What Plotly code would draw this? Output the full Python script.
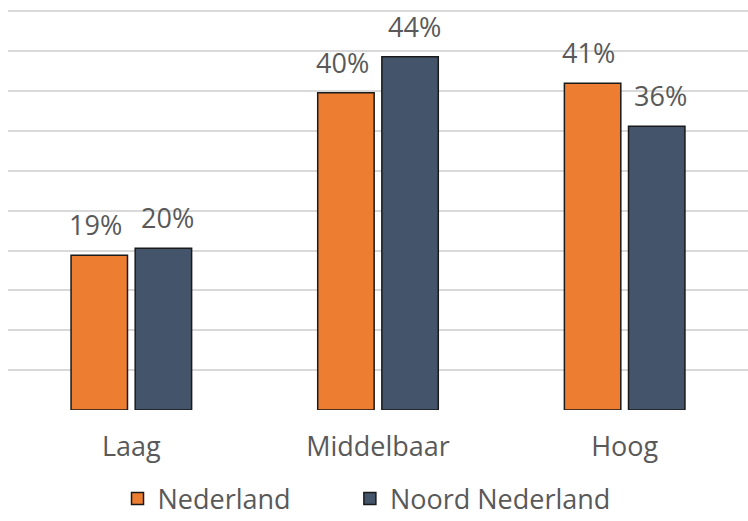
import plotly.graph_objects as go

categories = ["Laag", "Middelbaar", "Hoog"]
nederland = [19.4, 39.8, 41.0]
noord_nederland = [20.3, 44.3, 35.6]
series_names = ["Nederland", "Noord Nederland"]
colors = ["#ED7D31", "#44546A"]
legend_ids = ["legend", "legend2"]

font_color = "#595959"
font_family = "'Open Sans', sans-serif"
fs = 27

fig = go.Figure()
for name, vals, col, lg in zip(series_names, [nederland, noord_nederland], colors, legend_ids):
    fig.add_trace(go.Bar(
        x=categories, y=vals, name=name, legend=lg,
        marker=dict(color=col, line=dict(color="#1a1a1a", width=1.5)),
        cliponaxis=False,
    ))

# value labels placed above each bar
shifts = [-36, 36]
for vals, sh in zip([nederland, noord_nederland], shifts):
    for c, v in zip(categories, vals):
        fig.add_annotation(x=c, y=v, text=f"{v:.0f}%", showarrow=False,
                           xshift=sh, yshift=10, yanchor="bottom",
                           font=dict(size=fs, color=font_color, family=font_family))

leg_common = dict(orientation="h", y=-0.222, yanchor="middle", xanchor="left",
                  font=dict(size=fs, color=font_color), itemclick=False,
                  bgcolor="rgba(0,0,0,0)")

fig.update_layout(
    width=748, height=521,
    margin=dict(l=8, r=0, t=9, b=111, autoexpand=False),
    paper_bgcolor="white", plot_bgcolor="white",
    barmode="group", bargap=0.48, bargroupgap=0.12,
    font=dict(family=font_family, color=font_color, size=fs),
    showlegend=True,
    legend=dict(x=0.148, **leg_common),
    legend2=dict(x=0.462, **leg_common),
    xaxis=dict(showgrid=False, showline=False, ticks="", automargin=False,
               ticklabelstandoff=18, tickfont=dict(size=fs, color=font_color)),
    yaxis=dict(range=[0, 50.3], dtick=5, showgrid=True, gridcolor="#d9d9d9", gridwidth=1.5,
               zeroline=False, showticklabels=False, showline=False, automargin=False),
)

fig.write_html("out.html")
